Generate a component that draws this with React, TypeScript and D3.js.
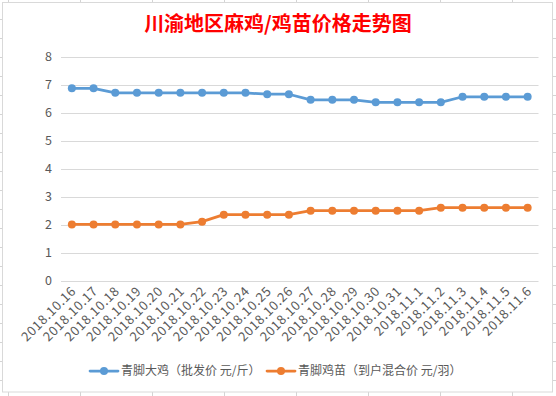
import React from 'react';
import * as d3 from 'd3';

const dates = [
  '2018.10.16', '2018.10.17', '2018.10.18', '2018.10.19', '2018.10.20', '2018.10.21',
  '2018.10.22', '2018.10.23', '2018.10.24', '2018.10.25', '2018.10.26', '2018.10.27',
  '2018.10.28', '2018.10.29', '2018.10.30', '2018.10.31', '2018.11.1', '2018.11.2',
  '2018.11.3', '2018.11.4', '2018.11.5', '2018.11.6',
];

// 青脚大鸡 批发价 元/斤
const chickenPrice = [
  6.88, 6.88, 6.72, 6.72, 6.72, 6.72, 6.72, 6.72, 6.72, 6.67, 6.67,
  6.47, 6.47, 6.47, 6.38, 6.38, 6.38, 6.38, 6.58, 6.58, 6.58, 6.58,
];

// 青脚鸡苗 到户混合价 元/羽
const chickPrice = [
  2.02, 2.02, 2.02, 2.02, 2.02, 2.02, 2.12, 2.37, 2.37, 2.37, 2.37,
  2.51, 2.51, 2.51, 2.51, 2.51, 2.51, 2.62, 2.62, 2.62, 2.62, 2.62,
];

const yTicks = [0, 1, 2, 3, 4, 5, 6, 7, 8];

const seriesNames = ['青脚大鸡（批发价 元/斤）', '青脚鸡苗（到户混合价 元/羽）'];
const seriesColors = ['#5B9BD5', '#ED7D31'];

const W = 556;
const H = 396;
const font = '"Noto Sans CJK SC", "Noto Sans", sans-serif';

export default function App() {
  const x = d3.scalePoint<string>().domain(dates).range([61, 538.5]).padding(0.5);
  const y = d3.scaleLinear().domain([0, 8]).range([281, 57]);

  const line = d3.line<number>()
    .x((_, i) => x(dates[i]) as number)
    .y(d => y(d));

  const series = [chickenPrice, chickPrice];

  // spreadsheet cell lines behind the chart object
  const colLines = d3.range(8, W, 72);
  const rowLines = d3.range(19, H, 19);

  return (
    <svg width={W} height={H} style={{ position: 'absolute', left: 0, top: 0, display: 'block' }}>
      <rect x={0} y={0} width={W} height={H} fill="#fff" />
      {colLines.map(c => (
        <line key={'c' + c} x1={c + 0.5} x2={c + 0.5} y1={0} y2={H} stroke="#D4D4D4" />
      ))}
      {rowLines.map(r => (
        <line key={'r' + r} x1={0} x2={W} y1={r + 0.5} y2={r + 0.5} stroke="#D4D4D4" />
      ))}
      <rect x={2.5} y={2.5} width={550} height={389.5} fill="#fff" stroke="#D9D9D9" />

      <text x={278} y={31} textAnchor="middle" fill="#FF0000" fontSize={20} fontWeight="bold" fontFamily={font}>
        川渝地区麻鸡/鸡苗价格走势图
      </text>

      {yTicks.map(t => (
        <g key={t}>
          <line x1={61} x2={538.5} y1={Math.round(y(t)) + 0.5} y2={Math.round(y(t)) + 0.5} stroke="#D9D9D9" />
          <text x={52} y={y(t)} dy="0.35em" textAnchor="end" fill="#595959" fontSize={12.5} fontFamily={font}>
            {t}
          </text>
        </g>
      ))}

      {dates.map(d => {
        const px = (x(d) as number) + 5;
        const py = 292;
        return (
          <text key={d} x={px} y={py} transform={`rotate(-45 ${px} ${py})`} textAnchor="end"
            fill="#595959" fontSize={13} fontFamily={font} letterSpacing={0.6}>
            {d}
          </text>
        );
      })}

      {series.map((s, si) => (
        <g key={si}>
          <path d={line(s) || ''} fill="none" stroke={seriesColors[si]} strokeWidth={2.75} strokeLinejoin="round" strokeLinecap="round" />
          {s.map((v, i) => (
            <circle key={i} cx={x(dates[i]) as number} cy={y(v)} r={4} fill={seriesColors[si]} />
          ))}
        </g>
      ))}

      {[90, 267].map((lx, si) => (
        <g key={si}>
          <line x1={lx} x2={lx + 28} y1={371} y2={371} stroke={seriesColors[si]} strokeWidth={2.75} strokeLinecap="round" />
          <circle cx={lx + 14} cy={371} r={4} fill={seriesColors[si]} />
          <text x={lx + 31} y={371} dy="0.36em" fill="#595959" fontSize={12} fontFamily={font}>
            {seriesNames[si]}
          </text>
        </g>
      ))}
    </svg>
  );
}
